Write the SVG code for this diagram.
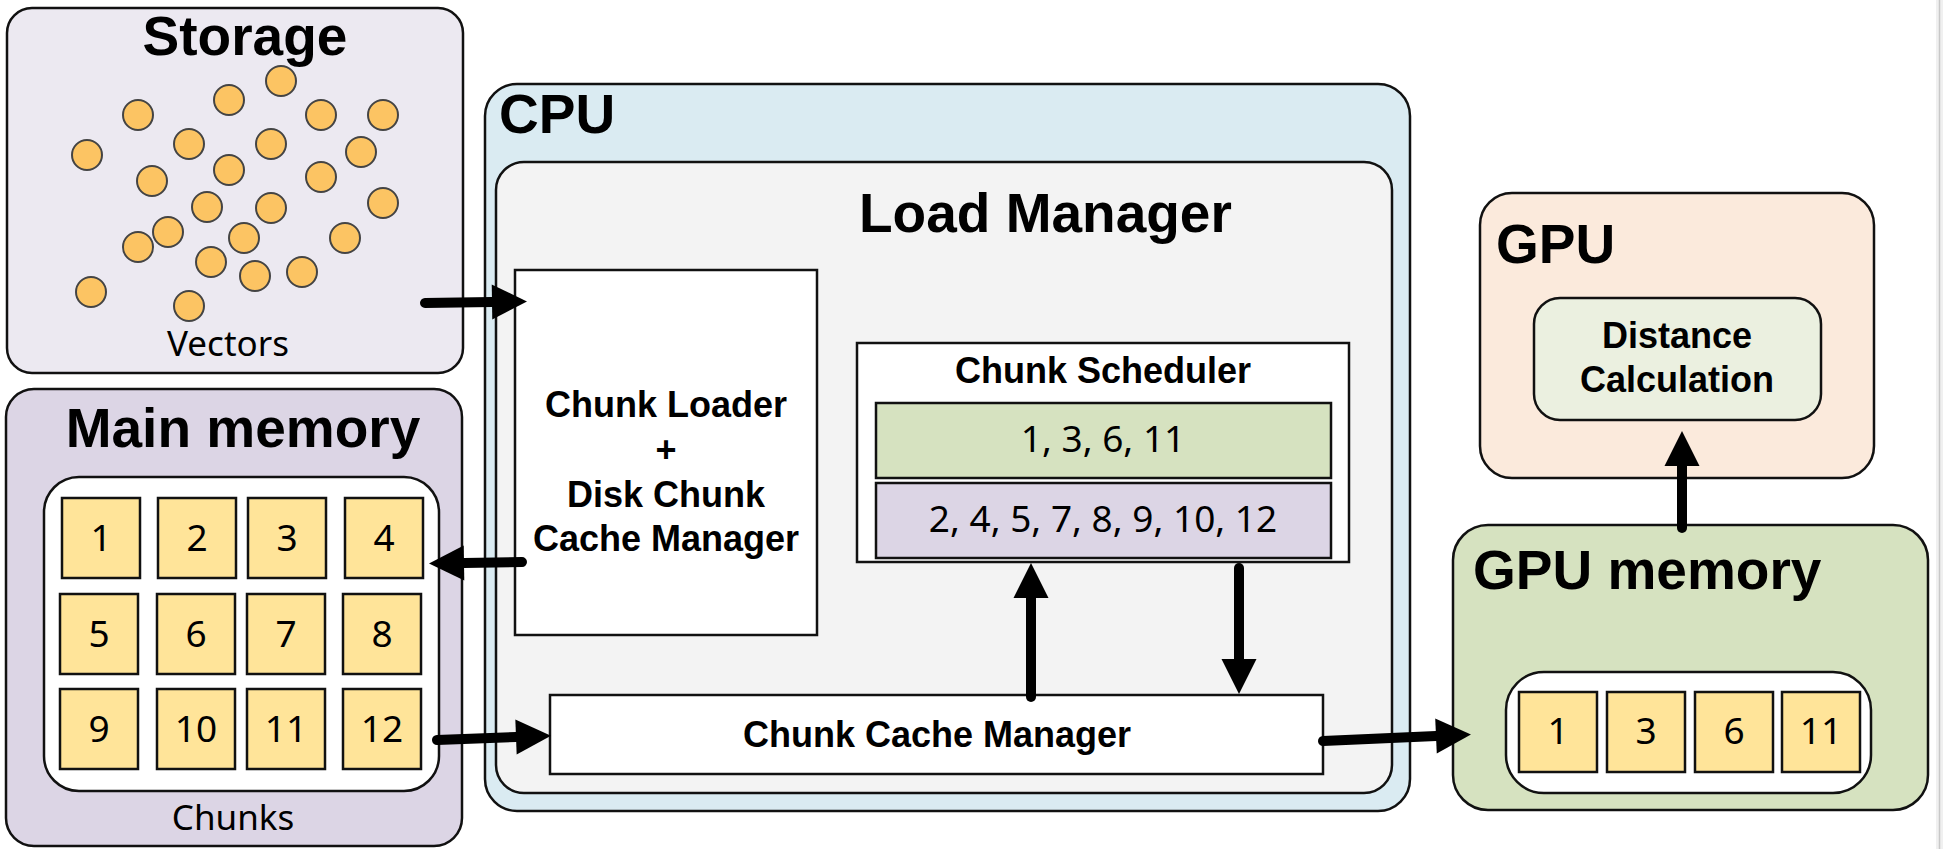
<svg xmlns="http://www.w3.org/2000/svg" width="1943" height="849" viewBox="0 0 1943 849">
<style>
.box{stroke:#111;stroke-width:2.5}
.title{font-family:"Liberation Sans",Arial,sans-serif;font-weight:bold;font-size:55px;fill:#000}
.sub{font-family:"Liberation Sans",Arial,sans-serif;font-weight:bold;font-size:36px;fill:#000;text-anchor:middle}
.lbl{font-family:"Noto Sans",sans-serif;font-size:35px;fill:#000;text-anchor:middle}
.num{font-family:"Noto Sans",sans-serif;font-size:37px;fill:#000;text-anchor:middle}
.chunk{fill:#FFE499;stroke:#111;stroke-width:2.5}
.vec{fill:#FCC463;stroke:#444;stroke-width:2}
.arr{stroke:#000;stroke-width:10;stroke-linecap:round;fill:none}
</style>
<defs>
<marker id="ah" markerUnits="userSpaceOnUse" markerWidth="36" markerHeight="36" refX="0" refY="17.5" orient="auto" overflow="visible">
<path d="M0,0 L35,17.5 L0,35 Z" fill="#000"/>
</marker>
</defs>
<rect width="1943" height="849" fill="#fff"/>
<rect x="1936" y="0" width="7" height="849" fill="#f0f0f0"/>
<line x1="1939.5" y1="0" x2="1939.5" y2="849" stroke="#c8c8c8" stroke-width="1.5"/>

<g id="storage">
<rect class="box" x="7" y="8" width="456" height="365" rx="25" fill="#ECE9F1"/>
<text class="title" x="245" y="55" text-anchor="middle">Storage</text>
<g>
<circle class="vec" cx="281" cy="81" r="15"/>
<circle class="vec" cx="229" cy="100" r="15"/>
<circle class="vec" cx="138" cy="115" r="15"/>
<circle class="vec" cx="321" cy="115" r="15"/>
<circle class="vec" cx="383" cy="115" r="15"/>
<circle class="vec" cx="87" cy="155" r="15"/>
<circle class="vec" cx="189" cy="144" r="15"/>
<circle class="vec" cx="271" cy="144" r="15"/>
<circle class="vec" cx="361" cy="152" r="15"/>
<circle class="vec" cx="152" cy="181" r="15"/>
<circle class="vec" cx="229" cy="170" r="15"/>
<circle class="vec" cx="321" cy="177" r="15"/>
<circle class="vec" cx="207" cy="207" r="15"/>
<circle class="vec" cx="271" cy="208" r="15"/>
<circle class="vec" cx="383" cy="203" r="15"/>
<circle class="vec" cx="168" cy="232" r="15"/>
<circle class="vec" cx="138" cy="247" r="15"/>
<circle class="vec" cx="244" cy="238" r="15"/>
<circle class="vec" cx="345" cy="238" r="15"/>
<circle class="vec" cx="211" cy="262" r="15"/>
<circle class="vec" cx="255" cy="276" r="15"/>
<circle class="vec" cx="302" cy="272" r="15"/>
<circle class="vec" cx="91" cy="292" r="15"/>
<circle class="vec" cx="189" cy="306" r="15"/>
</g>
<text class="lbl" x="228" y="356">Vectors</text>
</g>

<g id="main-memory">
<rect class="box" x="6" y="389" width="456" height="457" rx="28" fill="#DCD5E5"/>
<text class="title" x="243" y="447" text-anchor="middle">Main memory</text>
<rect class="box" x="44" y="477" width="395" height="314" rx="35" fill="#fff"/>
<rect class="chunk" x="62" y="498" width="78" height="80"/>
<rect class="chunk" x="158" y="498" width="78" height="80"/>
<rect class="chunk" x="248" y="498" width="78" height="80"/>
<rect class="chunk" x="345" y="498" width="78" height="80"/>
<rect class="chunk" x="60" y="594" width="78" height="80"/>
<rect class="chunk" x="157" y="594" width="78" height="80"/>
<rect class="chunk" x="247" y="594" width="78" height="80"/>
<rect class="chunk" x="343" y="594" width="78" height="80"/>
<rect class="chunk" x="60" y="689" width="78" height="80"/>
<rect class="chunk" x="157" y="689" width="78" height="80"/>
<rect class="chunk" x="247" y="689" width="78" height="80"/>
<rect class="chunk" x="343" y="689" width="78" height="80"/>
<text class="num" x="101" y="551">1</text>
<text class="num" x="197" y="551">2</text>
<text class="num" x="287" y="551">3</text>
<text class="num" x="384" y="551">4</text>
<text class="num" x="99" y="647">5</text>
<text class="num" x="196" y="647">6</text>
<text class="num" x="286" y="647">7</text>
<text class="num" x="382" y="647">8</text>
<text class="num" x="99" y="742">9</text>
<text class="num" x="196" y="742">10</text>
<text class="num" x="286" y="742">11</text>
<text class="num" x="382" y="742">12</text>
<text class="lbl" x="233" y="830">Chunks</text>
</g>

<g id="cpu">
<rect class="box" x="485" y="84" width="925" height="727" rx="32" fill="#DAEBF2"/>
<text class="title" x="499" y="133">CPU</text>
</g>

<g id="load-manager">
<rect class="box" x="496" y="162" width="896" height="631" rx="28" fill="#F3F3F3"/>
<text class="title" x="859" y="232">Load Manager</text>
</g>

<g id="chunk-loader">
<rect class="box" x="515" y="270" width="302" height="365" fill="#fff"/>
<text class="sub" x="666" y="417">Chunk Loader</text>
<text class="sub" x="666" y="462">+</text>
<text class="sub" x="666" y="507">Disk Chunk</text>
<text class="sub" x="666" y="551">Cache Manager</text>
</g>

<g id="chunk-scheduler">
<rect class="box" x="857" y="343" width="492" height="219" fill="#fff"/>
<text class="sub" x="1103" y="383">Chunk Scheduler</text>
<rect class="box" x="876" y="403" width="455" height="75" fill="#D6E2C0"/>
<text class="num" x="1103" y="452">1, 3, 6, 11</text>
<rect class="box" x="876" y="483" width="455" height="75" fill="#DCD5E5"/>
<text class="num" x="1103" y="532">2, 4, 5, 7, 8, 9, 10, 12</text>
</g>

<g id="chunk-cache-manager">
<rect class="box" x="550" y="695" width="773" height="79" fill="#fff"/>
<text class="sub" x="937" y="747">Chunk Cache Manager</text>
</g>

<g id="gpu">
<rect class="box" x="1480" y="193" width="394" height="285" rx="32" fill="#FBEADC"/>
<text class="title" x="1496" y="263">GPU</text>
</g>

<g id="distance-calculation">
<rect class="box" x="1534" y="298" width="287" height="122" rx="26" fill="#EBF0E0"/>
<text class="sub" x="1677" y="348">Distance</text>
<text class="sub" x="1677" y="392">Calculation</text>
</g>

<g id="gpu-memory">
<rect class="box" x="1453" y="525" width="475" height="285" rx="35" fill="#D6E2C0"/>
<text class="title" x="1473" y="589">GPU memory</text>
<rect class="box" x="1506" y="672" width="365" height="121" rx="38" fill="#fff"/>
<rect class="chunk" x="1519" y="692" width="78" height="80"/>
<rect class="chunk" x="1607" y="692" width="78" height="80"/>
<rect class="chunk" x="1695" y="692" width="78" height="80"/>
<rect class="chunk" x="1782" y="692" width="78" height="80"/>
<text class="num" x="1558" y="744">1</text>
<text class="num" x="1646" y="744">3</text>
<text class="num" x="1734" y="744">6</text>
<text class="num" x="1821" y="744">11</text>
</g>

<g id="connectors">
<line class="arr" x1="425" y1="303" x2="492" y2="302" marker-end="url(#ah)"/>
<line class="arr" x1="522" y1="562" x2="464" y2="563" marker-end="url(#ah)"/>
<line class="arr" x1="437" y1="740" x2="516" y2="737" marker-end="url(#ah)"/>
<line class="arr" x1="1031" y1="697" x2="1031" y2="598" marker-end="url(#ah)"/>
<line class="arr" x1="1239" y1="568" x2="1239" y2="659" marker-end="url(#ah)"/>
<line class="arr" x1="1323" y1="741" x2="1436" y2="736" marker-end="url(#ah)"/>
<line class="arr" x1="1682" y1="528" x2="1682" y2="466" marker-end="url(#ah)"/>
</g>
</svg>
